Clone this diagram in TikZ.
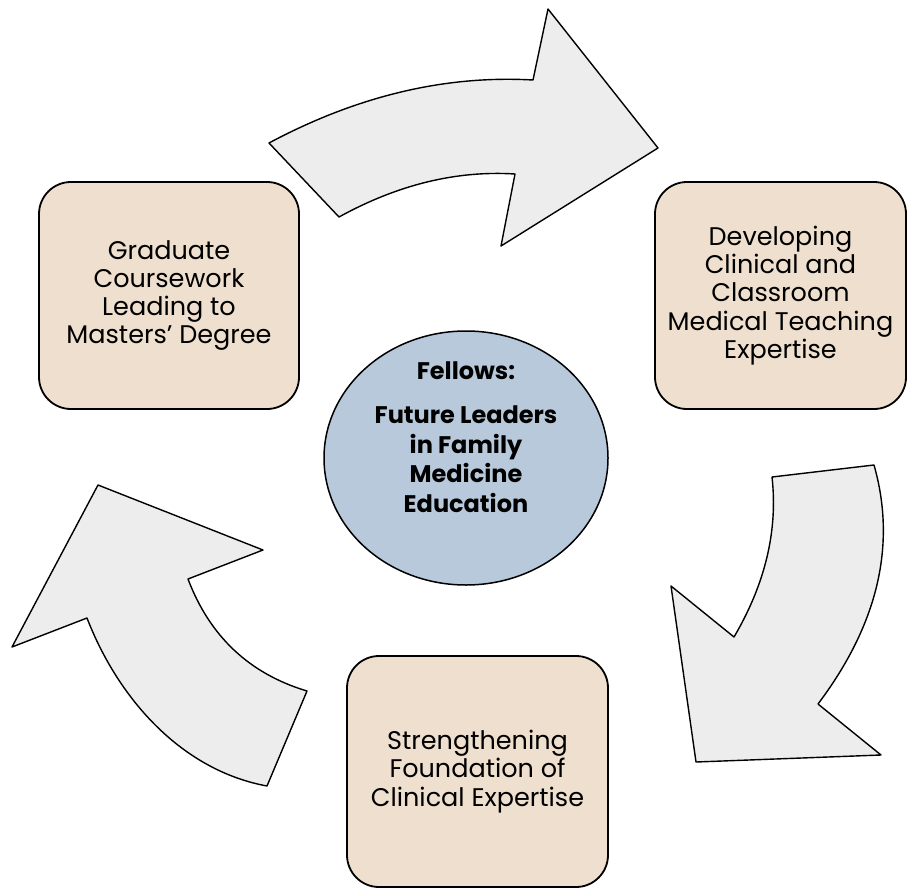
\documentclass[tikz,border=0pt]{standalone}
\usepackage{fontspec}
\newfontfamily\poppins{Poppins}
\usepackage{tikz}
\usetikzlibrary{shapes.geometric}

\begin{document}
\begin{tikzpicture}[x=1pt,y=-1pt,line join=round]
	\def\cyclefontA{\poppins\fontsize{25.5pt}{28.3pt}\selectfont} % box texts
	\def\cyclefontB{\poppins\bfseries\fontsize{24pt}{29.5pt}\selectfont} % centre text
	\definecolor{custcol_ee_df_ce}{RGB}{238, 223, 206}
	\definecolor{custcol_b7_c9_db}{RGB}{183, 201, 219}
	\definecolor{custcol_ed_ed_ed}{RGB}{237, 237, 237}
	\tikzset{
		stage/.style={draw=black, line width=1.8pt, fill=custcol_ee_df_ce, rounded corners=32pt, align=center, font=\cyclefontA, inner sep=0},
		turn/.style={draw=black, line width=1.4pt, fill=custcol_ed_ed_ed},
		hub/.style={ellipse, draw=black, line width=1.5pt, fill=custcol_b7_c9_db, inner sep=0},
	}
	\useasboundingbox (0,0) rectangle (907,888);
	% curved block arrows
	\draw [turn] (269,143) .. controls (357,96) and (445,75) .. (533,80) -- (548,9) -- (658,148) -- (501,246) -- (515,174) .. controls (456.3,170.3) and (397.7,184.7) .. (339,217) -- cycle;
	\draw [turn] (772,477) -- (874,465) .. controls (896.7,544.7) and (878,624.3) .. (818,704) -- (881,755) -- (696,762) -- (671,586) -- (734,637) .. controls (765.3,583.7) and (778,530.3) .. (772,477) -- cycle;
	\draw [turn] (267,786) -- (307,691) .. controls (249.3,673.7) and (209.7,636.3) .. (188,579) -- (263,550) -- (98,485) -- (12,647) -- (87,618) .. controls (118.3,699) and (181.7,770.3) .. (267,786) -- cycle;
	% stages
	\node [stage, minimum width=260pt, minimum height=227pt] (coursework) at (169,295.5) {Graduate\\Coursework\\Leading to\\Masters’ Degree};
	\node [stage, minimum width=251pt, minimum height=227pt] (teaching) at (780.5,295.5) {Developing\\Clinical and\\Classroom\\Medical Teaching\\Expertise};
	\node [stage, minimum width=261pt, minimum height=231pt] (foundation) at (477.5,771.5) {Strengthening\\Foundation of\\Clinical Expertise};
	% centre
	\node [hub, minimum width=284pt, minimum height=254pt] (fellows) at (466,458) {};
	\node [font=\cyclefontB, align=center, inner sep=0] (fellowstext) at (466,437) {Fellows:\\[15pt]Future Leaders\\in Family\\Medicine\\Education};
\end{tikzpicture}
\end{document}
